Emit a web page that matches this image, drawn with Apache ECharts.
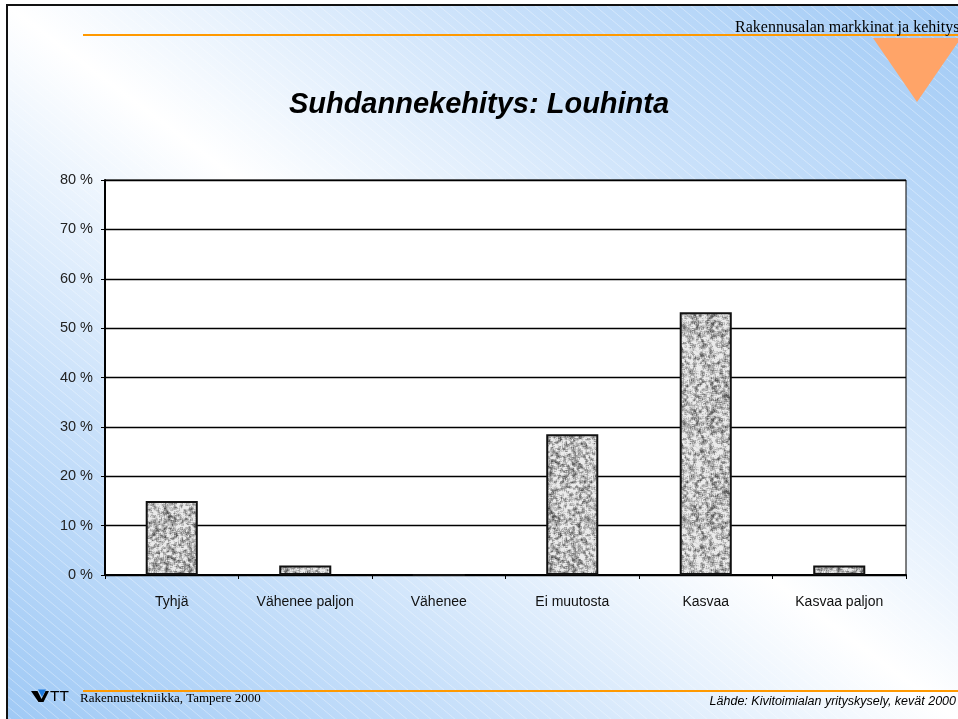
<!DOCTYPE html>
<html>
<head>
<meta charset="utf-8">
<script src="https://cdn.jsdelivr.net/npm/echarts@6/dist/echarts.min.js"></script>
<style>
  html, body { margin: 0; padding: 0; background: #fff; }
  #chart { width: 958px; height: 719px; }
</style>
</head>
<body>
<div id="chart"></div>
<script>
// Survey answers: share of respondents per outlook category (%)
const categories = ['Tyhjä', 'Vähenee paljon', 'Vähenee', 'Ei muutosta', 'Kasvaa', 'Kasvaa paljon'];
const shares = [15.0, 1.9, 0, 28.5, 53.2, 1.9];
const yTickLabels = ['0 %', '10 %', '20 %', '30 %', '40 %', '50 %', '60 %', '70 %', '80 %'];

const titleText = 'Suhdannekehitys: Louhinta';
const headerText = 'Rakennusalan markkinat ja kehitys';
const footerLeft = 'Rakennustekniikka, Tampere 2000';
const footerRight = 'Lähde: Kivitoimialan yrityskysely, kevät 2000';

// Speckled granite texture for the bars (deterministic generator)
function graniteTexture(size) {
  const c = document.createElement('canvas');
  c.width = c.height = size;
  const ctx = c.getContext('2d');
  let s = 987654321;
  const rnd = () => { s = (Math.imul(s, 1664525) + 1013904223) >>> 0; return s / 4294967296; };
  const raw = new Float32Array(size * size);
  for (let i = 0; i < raw.length; i++) raw[i] = rnd();
  const img = ctx.createImageData(size, size);
  for (let y = 0; y < size; y++) {
    for (let x = 0; x < size; x++) {
      let sum = 0;
      for (let dy = -1; dy <= 1; dy++) for (let dx = -1; dx <= 1; dx++) {
        sum += raw[((y + dy + size) % size) * size + ((x + dx + size) % size)];
      }
      const v = sum / 9;
      let g = 188 + (v - 0.5) * 400 + (rnd() - 0.5) * 50;
      g = Math.max(85, Math.min(235, g));
      const k = (y * size + x) * 4;
      img.data[k] = img.data[k + 1] = img.data[k + 2] = g;
      img.data[k + 3] = 255;
    }
  }
  ctx.putImageData(img, 0, 0);
  return c;
}

// Thin diagonal white hatching over the slide background
function hatchTexture() {
  const c = document.createElement('canvas');
  c.width = 12; c.height = 10;
  const ctx = c.getContext('2d');
  ctx.strokeStyle = 'rgba(255,255,255,0.35)';
  ctx.lineWidth = 1;
  ctx.beginPath();
  ctx.moveTo(-6, -5); ctx.lineTo(18, 15);
  ctx.stroke();
  return c;
}

const chart = echarts.init(document.getElementById('chart'), null, { renderer: 'canvas' });

const bgGradient = new echarts.graphic.LinearGradient(134, 820, 824, -100, [
  { offset: 0, color: '#9fc9f5' },
  { offset: 0.25, color: '#c8e0fa' },
  { offset: 0.5, color: '#ffffff' },
  { offset: 0.75, color: '#c8e0fa' },
  { offset: 1, color: '#9fc9f5' }
], true);

const orange = '#ff9900';

chart.setOption({
  animation: false,
  backgroundColor: '#ffffff',
  title: {
    text: titleText,
    left: 'center',
    top: 85,
    textStyle: {
      fontFamily: 'Liberation Sans',
      fontSize: 29,
      fontWeight: 'bold',
      fontStyle: 'italic',
      color: '#000'
    }
  },
  graphic: [
    { type: 'rect', z: -10, silent: true, shape: { x: 8, y: 6, width: 960, height: 720 }, style: { fill: bgGradient } },
    { type: 'rect', z: -9, silent: true, shape: { x: 8, y: 6, width: 960, height: 720 }, style: { fill: { image: hatchTexture(), repeat: 'repeat' } } },
    { type: 'rect', z: -8, silent: true, shape: { x: 7, y: 5, width: 1000, height: 800 }, style: { fill: 'none', stroke: '#111', lineWidth: 2 } },
    { type: 'line', z: -7, silent: true, shape: { x1: 83, y1: 35, x2: 958, y2: 35 }, style: { stroke: orange, lineWidth: 2 } },
    { type: 'polygon', z: -6, silent: true, shape: { points: [[873, 38], [961, 38], [917, 102]] }, style: { fill: '#ffa468' } },
    { type: 'text', z: -5, silent: true, x: 735, y: 28,
      style: { text: headerText, font: '16px "Liberation Serif"', fill: '#000', verticalAlign: 'middle' } },
    { type: 'line', z: -7, silent: true, shape: { x1: 83, y1: 691, x2: 958, y2: 691 }, style: { stroke: orange, lineWidth: 2 } },
    // VTT logo: bold V with a blue wedge, followed by two T letters
    { type: 'polygon', z: -5, silent: true,
      shape: { points: [[31, 691], [37.5, 691], [41.5, 699], [45.5, 691], [49, 691], [43.5, 702], [38.5, 702]] },
      style: { fill: '#000' } },
    { type: 'polygon', z: -4, silent: true,
      shape: { points: [[38, 689.5], [46, 689.5], [42, 697]] },
      style: { fill: '#1e7be0' } },
    { type: 'text', z: -5, silent: true, x: 50, y: 690, scaleX: 1.1, originX: 0, originY: 0,
      style: { text: 'TT', font: '14px "Liberation Sans"', fill: '#000', verticalAlign: 'top' } },
    { type: 'text', z: -5, silent: true, x: 80, y: 699,
      style: { text: footerLeft, font: '13px "Liberation Serif"', fill: '#000', verticalAlign: 'middle' } },
    { type: 'text', z: -5, silent: true, x: 956, y: 702,
      style: { text: footerRight, font: 'italic 12.5px "Liberation Sans"', fill: '#000', align: 'right', verticalAlign: 'middle' } }
  ],
  grid: {
    left: 105, right: 52, top: 180, bottom: 144,
    show: true,
    backgroundColor: '#ffffff',
    borderColor: '#000',
    borderWidth: 1
  },
  xAxis: {
    type: 'category',
    data: categories,
    axisLine: { show: true, lineStyle: { color: '#000', width: 2 } },
    axisTick: { show: true, length: 4, lineStyle: { color: '#000', width: 1 } },
    axisLabel: { color: '#111', fontSize: 14, fontFamily: 'Liberation Sans', margin: 20 },
    splitLine: { show: false }
  },
  yAxis: {
    type: 'value',
    min: 0, max: 80, interval: 10,
    axisLine: { show: true, lineStyle: { color: '#000', width: 2 } },
    axisTick: { show: true, length: 4, lineStyle: { color: '#000', width: 1 } },
    splitLine: { show: true, lineStyle: { color: '#000', width: 1.3 } },
    axisLabel: {
      formatter: v => yTickLabels[Math.round(v / 10)],
      color: '#222', fontSize: 14.5, fontFamily: 'Liberation Sans', margin: 12
    }
  },
  series: [{
    type: 'bar',
    data: shares,
    barWidth: '39%',
    itemStyle: {
      color: { image: graniteTexture(96), repeat: 'repeat' },
      borderColor: '#111',
      borderWidth: 2
    }
  }]
});
</script>
</body>
</html>
